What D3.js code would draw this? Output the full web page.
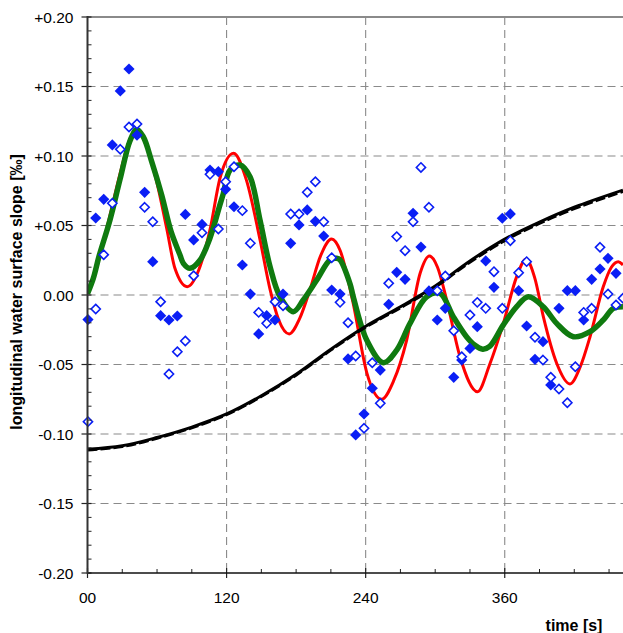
<!DOCTYPE html>
<html><head><meta charset="utf-8">
<script src="https://cdn.jsdelivr.net/npm/d3@7"></script>
<style>body{margin:0;background:#fff;}svg{display:block;font-family:"Liberation Sans",Arial,Helvetica,sans-serif;}</style>
</head><body><svg id="c" width="623" height="633"></svg>
<script>
// ---- data ----
const sampleTime = [0.4,7.1,14,21.4,28.3,35.8,42.7,49.3,56.3,63.1,70.3,77.5,84.4,91.6,98.8,105.7,112.9,119.2,126.4,133.6,140.5,147.7,154.6,161.8,168.7,175.3,182.5,189.6,196.6,203.8,210.7,217.9,224.8,231.4,238.6,245.7,252.6,259.9,266.8,274,280.9,287.7,294.6,301.8,308.7,316,322.9,330,336.3,343.6,350.7,357.9,364.8,372,378.9,386.1,393,399.7,406.8,414,420.9,428.1,435,442.2,449.1,456,462];
const filledSlope = [-0.0177,0.0554,0.0688,0.108,0.1468,0.1626,0.115,0.0739,0.024,-0.0149,-0.018,-0.0151,0.058,0.0396,0.0508,0.0899,0.0887,0.076,0.0635,0.0216,0.0007,-0.028,-0.0149,-0.018,0.0007,0.0372,0.0504,0.0612,0.053,0.0424,0.0036,0.0007,-0.046,-0.1007,-0.0856,-0.0671,-0.054,-0.0067,0.0163,0.0113,0.0588,0.0345,0.0029,-0.018,-0.0096,-0.0592,-0.0468,-0.0384,-0.0228,0.0245,0.0055,0.0552,0.0583,0.0031,-0.0223,-0.0463,-0.0336,-0.0647,-0.0096,0.0031,0.0031,-0.018,0.0113,0.0187,0.0264,0.0156,null];
const openSlope = [-0.0911,-0.0101,0.029,0.066,0.1048,0.1209,0.123,0.0631,0.0527,-0.0048,-0.0568,-0.0408,-0.0331,0.0139,0.0448,0.0868,0.0475,0.0815,0.0923,0.0607,0.0372,-0.0125,-0.0204,-0.0048,-0.0077,0.0583,0.0583,0.0739,0.0815,0.0527,0.0268,-0.0053,-0.0199,-0.0439,-0.0959,-0.0487,-0.0779,0.0084,0.042,0.0319,0.0527,0.0918,0.0631,0.0031,0.0137,-0.0257,-0.0444,-0.0144,-0.0053,-0.0096,0.0168,-0.0096,0.0391,0.016,0.024,-0.0304,-0.0468,-0.0592,-0.0676,-0.0775,-0.0516,-0.0125,-0.0096,0.0343,0.0007,-0.0072,-0.0024];

const redTime  = [0,8,19,28,36,43,51,59.7,68.3,75.5,86,96,105.7,114.3,126,137,148.8,157.5,165,174,183,192,201,210.7,218,229,241,253.8,264,275.4,287,295,302,310,321.4,336.5,347,358.8,370.3,378.3,386,393.3,404.8,416.3,425,433.6,445,452,458,462];
const redSlope = [0.001,0.02,0.056,0.087,0.111,0.1195,0.107,0.0815,0.048,0.019,0.006,0.018,0.047,0.084,0.102,0.083,0.04,0.004,-0.018,-0.028,-0.017,0.004,0.028,0.0403,0.032,-0.005,-0.056,-0.075,-0.062,-0.0324,0.0156,0.028,0.02,-0.004,-0.0444,-0.0696,-0.05,-0.0204,0.0132,0.0257,0.012,-0.0156,-0.0491,-0.064,-0.052,-0.03,0.006,0.02,0.024,0.0216];

const greenTime  = [0,5,10,19.4,28,36.7,42.4,48,55.4,64,72,79.8,82.7,88.4,97,105.7,114.3,117.2,123,131.6,140.2,148.8,157.5,166.1,177.6,186.2,197.8,209.2,215,217.9,226.5,229.3,240.9,255.2,266.8,278.3,292.7,304.1,315.6,327,334,341,347,358.8,370.3,380.3,393.3,404.8,419.2,433.6,445,453.7,462];
const greenSlope = [0.001,0.012,0.028,0.054,0.083,0.111,0.119,0.114,0.096,0.072,0.046,0.0288,0.0228,0.0192,0.025,0.041,0.065,0.073,0.09,0.0935,0.085,0.054,0.0204,-0.0012,-0.012,-0.0036,0.0108,0.0252,0.0264,0.0252,0.008,-0.0012,-0.0324,-0.0487,-0.0396,-0.0204,-0.0012,0.0012,-0.0156,-0.03,-0.036,-0.039,-0.037,-0.0215,-0.0084,-0.0012,-0.0084,-0.0204,-0.03,-0.0264,-0.018,-0.0096,-0.0084];

const blackTime  = [0,30,60,90,120,150,180,210,240,270,300,330,360,390,420,462];
const blackSlope = [-0.111,-0.1085,-0.1025,-0.095,-0.0856,-0.0725,-0.057,-0.039,-0.0225,-0.0085,0.0065,0.0245,0.0402,0.0525,0.0632,0.0755];
const blackDashSlope = [-0.1117,-0.1092,-0.1032,-0.0957,-0.0863,-0.0732,-0.0578,-0.0398,-0.0233,-0.0094,0.0055,0.0234,0.039,0.0513,0.062,0.0743];

const xTicks = [0,120,240,360,480];
const xTickLabels = ["00","120","240","360",""];
const yTicks = [-0.20,-0.15,-0.10,-0.05,0,0.05,0.10,0.15,0.20];
const yTickLabels = ["-0.20","-0.15","-0.10","-0.05","0.00","+0.05","+0.10","+0.15","+0.20"];

// ---- chart ----
(function(){
const svg = d3.select("#c");
const pL = 87.5, pT = 17, pB = 573, pR = 623;
const x = d3.scaleLinear().domain([0,480]).range([pL, pL + 480*1.159]);
const y = d3.scaleLinear().domain([-0.2,0.2]).range([pB, pT]);

const grid = svg.append("g");
grid.selectAll("line.h").data(yTicks.filter(v => v > -0.2 && v < 0.2)).enter().append("line")
  .attr("x1", pL).attr("x2", pR).attr("y1", d => y(d)).attr("y2", d => y(d))
  .attr("stroke", "#8a8a8a").attr("stroke-width", 1.1).attr("stroke-dasharray", "8,5");
grid.selectAll("line.v").data(xTicks.filter(v => v > 0)).enter().append("line")
  .attr("x1", d => x(d)).attr("x2", d => x(d)).attr("y1", pT).attr("y2", pB)
  .attr("stroke", "#8a8a8a").attr("stroke-width", 1.1).attr("stroke-dasharray", "8,5");
svg.append("line").attr("x1", pL).attr("x2", pR).attr("y1", pT).attr("y2", pT)
  .attr("stroke", "#8a8a8a").attr("stroke-width", 2);

const defs = svg.append("defs");
defs.append("clipPath").attr("id","pc").append("rect")
  .attr("x", pL).attr("y", pT).attr("width", pR-pL).attr("height", pB-pT);
defs.append("clipPath").attr("id","pc2").append("rect")
  .attr("x", 0).attr("y", 0).attr("width", pR).attr("height", pB);
const plot = svg.append("g").attr("clip-path","url(#pc)");

const line = d3.line().x(d => x(d[0])).y(d => y(d[1])).curve(d3.curveMonotoneX);
const smooth = d3.line().x(d => x(d[0])).y(d => y(d[1])).curve(d3.curveCatmullRom);
const zip = (a,b) => a.map((t,i) => [t,b[i]]);

plot.append("path").datum(zip(redTime, redSlope)).attr("d", line)
  .attr("fill","none").attr("stroke","#ff0000").attr("stroke-width",3);
plot.append("path").datum(zip(greenTime, greenSlope)).attr("d", smooth)
  .attr("fill","none").attr("stroke","#0f7a0f").attr("stroke-width",5.5).attr("stroke-linejoin","round");
plot.append("path").datum(zip(blackTime, blackDashSlope)).attr("d", smooth)
  .attr("fill","none").attr("stroke","#000").attr("stroke-width",2.5).attr("stroke-dasharray","10,3");
plot.append("path").datum(zip(blackTime, blackSlope)).attr("d", smooth)
  .attr("fill","none").attr("stroke","#000").attr("stroke-width",3);

const filledPts = sampleTime.map((t,i) => [t, filledSlope[i]]).filter(d => d[1] !== null);
const openPts = sampleTime.map((t,i) => [t, openSlope[i]]).filter(d => d[1] !== null);
const mk = svg.append("g").attr("clip-path","url(#pc2)");
mk.selectAll("path.f").data(filledPts).enter().append("path")
  .attr("d","M0,-5.6L5.6,0L0,5.6L-5.6,0Z")
  .attr("transform", d => `translate(${x(d[0])},${y(d[1])})`)
  .attr("fill","#0a1ef5");
mk.selectAll("path.o").data(openPts).enter().append("path")
  .attr("d","M0,-4.6L4.6,0L0,4.6L-4.6,0Z")
  .attr("transform", d => `translate(${x(d[0])},${y(d[1])})`)
  .attr("fill","#fff").attr("stroke","#0a1ef5").attr("stroke-width",1.6);

const ax = svg.append("g");
const yMinor = d3.range(-20, 21).filter(i => i % 5 !== 0).map(i => i/100);
ax.selectAll("line.ym").data(yMinor).enter().append("line")
  .attr("x1", pL).attr("x2", pL+4).attr("y1", d => y(d)).attr("y2", d => y(d))
  .attr("stroke","#222").attr("stroke-width",1);
ax.selectAll("line.yM").data(yTicks).enter().append("line")
  .attr("x1", pL-6).attr("x2", pL+4).attr("y1", d => y(d)).attr("y2", d => y(d))
  .attr("stroke","#222").attr("stroke-width",1.2);
ax.selectAll("text.yl").data(yTicks).enter().append("text")
  .attr("x", pL-14).attr("y", d => y(d)).attr("dy","0.36em")
  .attr("text-anchor","end").attr("font-size","15.5px").attr("fill","#000")
  .text((d,i) => yTickLabels[i]);
const xMinor = d3.range(0, 481, 30).filter(v => v % 120 !== 0);
ax.selectAll("line.xm").data(xMinor).enter().append("line")
  .attr("x1", d => x(d)).attr("x2", d => x(d)).attr("y1", pB).attr("y2", pB-4)
  .attr("stroke","#222").attr("stroke-width",1);
ax.selectAll("line.xM").data(xTicks).enter().append("line")
  .attr("x1", d => x(d)).attr("x2", d => x(d)).attr("y1", pB-5).attr("y2", pB+5)
  .attr("stroke","#222").attr("stroke-width",1.2);
ax.selectAll("text.xl").data(xTicks.filter((d,i) => xTickLabels[i] !== "")).enter().append("text")
  .attr("x", d => x(d)).attr("y", 597).attr("dy","0.36em")
  .attr("text-anchor","middle").attr("font-size","15.5px").attr("fill","#000")
  .text((d,i) => xTickLabels[i]);
ax.append("line").attr("x1", pL).attr("x2", pR).attr("y1", pB).attr("y2", pB)
  .attr("stroke","#111").attr("stroke-width",1.4);
ax.append("line").attr("x1", pL).attr("x2", pL).attr("y1", pT-1).attr("y2", pB+0.7)
  .attr("stroke","#333").attr("stroke-width",2);

svg.append("text").attr("x", 574).attr("y", 625).attr("dy","0.36em")
  .attr("text-anchor","middle").attr("font-size","16px").attr("font-weight","bold")
  .text("time [s]");
svg.append("text").attr("transform","translate(22,292) rotate(-90)")
  .attr("text-anchor","middle").attr("font-size","16px").attr("font-weight","bold")
  .text("longitudinal water surface slope [‰]");
})();
</script></body></html>
